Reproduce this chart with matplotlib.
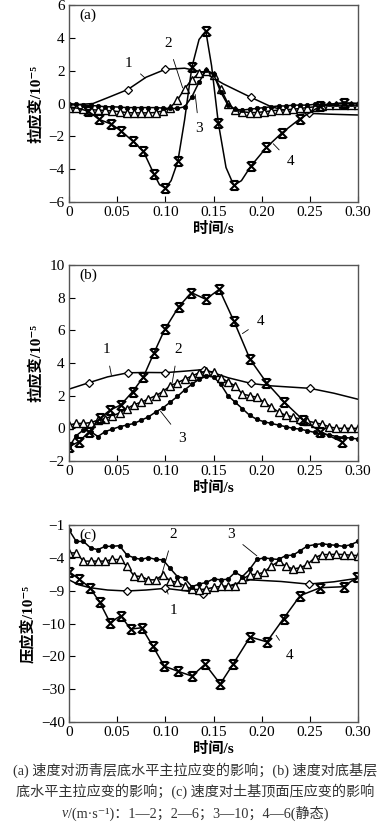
import numpy as np
import matplotlib.pyplot as plt
from matplotlib.path import Path

FAM = ['Liberation Serif', 'DejaVu Serif', 'Noto Sans CJK SC']
plt.rcParams['font.family'] = FAM
plt.rcParams['mathtext.fontset'] = 'stix'

# common time grid for the densely sampled curves 2 and 3
t = [0, 0.0075, 0.015, 0.0225, 0.03, 0.0375, 0.045, 0.0525, 0.06, 0.0675,
     0.075, 0.0825, 0.09, 0.0975, 0.105, 0.1125, 0.12, 0.1275, 0.135, 0.1425,
     0.15, 0.1575, 0.165, 0.1725, 0.18, 0.1875, 0.195, 0.2025, 0.21, 0.2175,
     0.225, 0.2325, 0.24, 0.2475, 0.255, 0.2625, 0.27, 0.2775, 0.285, 0.2925, 0.30]

# ---- (a) 沥青层底水平主拉应变
a1_x = [0, 0.025, 0.04, 0.061, 0.08, 0.100, 0.12, 0.14, 0.16, 0.189, 0.21, 0.23, 0.249, 0.27, 0.30]
a1_y = [-0.1, 0.0, 0.35, 0.85, 1.6, 2.08, 2.15, 1.9, 1.2, 0.37, -0.2, -0.5, -0.6, -0.65, -0.7]
a1_m = [3, 5, 9, 12]
a2_y = [-0.25, -0.3, -0.35, -0.38, -0.4, -0.42, -0.45, -0.5, -0.55, -0.57,
        -0.57, -0.57, -0.55, -0.45, -0.25, 0.2, 0.9, 1.45, 1.85, 2.0,
        1.75, 0.9, 0.0, -0.4, -0.5, -0.55, -0.55, -0.5, -0.45, -0.4,
        -0.38, -0.35, -0.3, -0.25, -0.2, -0.15, -0.12, -0.1, -0.1, -0.1, -0.1]
a3_y = [0.0, -0.05, -0.1, -0.12, -0.15, -0.2, -0.2, -0.22, -0.25, -0.25,
        -0.25, -0.25, -0.25, -0.28, -0.3, -0.3, -0.2, 0.4, 1.3, 2.05,
        1.8, 0.7, -0.1, -0.35, -0.4, -0.35, -0.3, -0.25, -0.2, -0.15,
        -0.15, -0.1, -0.1, -0.1, -0.05, -0.05, -0.05, 0.0, 0.0, 0.0, 0.0]
a4_x = [0, 0.01, 0.02, 0.031, 0.044, 0.054, 0.066, 0.077, 0.088, 0.094, 0.100, 0.106,
        0.113, 0.120, 0.1275, 0.135, 0.142, 0.148, 0.155, 0.163, 0.171, 0.179,
        0.189, 0.205, 0.221, 0.240, 0.261, 0.285, 0.30]
a4_y = [-0.2, -0.3, -0.47, -0.96, -1.26, -1.67, -2.28, -2.89, -4.27, -4.95, -5.15, -4.7,
        -3.52, -1.0, 2.2, 3.9, 4.41, 2.3, -1.18, -3.9, -4.98, -4.7,
        -3.8, -2.67, -1.79, -0.92, -0.15, 0.05, 0.0]
a4_m = [2, 3, 4, 5, 6, 7, 8, 10, 12, 14, 16, 18, 20, 22, 23, 24, 25, 26, 27]

# ---- (b) 底基层底水平主拉应变
b1_x = [0, 0.021, 0.04, 0.061, 0.08, 0.1, 0.12, 0.14, 0.165, 0.189, 0.21, 0.25, 0.275, 0.30]
b1_y = [2.4, 2.8, 3.15, 3.4, 3.42, 3.41, 3.5, 3.6, 3.1, 2.75, 2.6, 2.45, 2.15, 1.78]
b1_m = [1, 3, 5, 7, 9, 11]
b2_y = [0.2, 0.3, 0.3, 0.35, 0.5, 0.6, 0.75, 0.95, 1.2, 1.45,
        1.6, 1.8, 2.0, 2.25, 2.6, 2.8, 3.0, 3.2, 3.4, 3.5,
        3.45, 3.1, 2.85, 2.6, 2.1, 2.0, 1.9, 1.6, 1.3, 1.0,
        0.8, 0.7, 0.55, 0.45, 0.35, 0.25, 0.1, 0.0, 0.0, 0.0, 0.0]
b3_y = [-1.15, -0.45, -0.1, -0.2, -0.5, -0.2, -0.05, 0.1, 0.2, 0.3,
        0.5, 0.7, 1.0, 1.25, 1.6, 1.95, 2.35, 2.7, 3.0, 3.2,
        3.15, 2.7, 2.0, 1.6, 1.2, 0.8, 0.55, 0.4, 0.3, 0.2,
        0.1, 0.0, -0.05, -0.15, -0.25, -0.35, -0.4, -0.5, -0.55, -0.6, -0.65]
b4_x = [0, 0.0104, 0.021, 0.032, 0.0426, 0.0537, 0.066, 0.077, 0.088, 0.0994, 0.114,
        0.127, 0.142, 0.156, 0.171, 0.188, 0.205, 0.223, 0.243, 0.261, 0.283]
b4_y = [-1.12, -0.82, -0.2, 0.61, 1.12, 1.43, 2.24, 3.12, 4.59, 6.06, 7.45,
        8.31, 7.9, 8.51, 6.59, 4.22, 2.8, 1.63, 0.51, -0.2, -0.82]

# ---- (c) 土基顶面压应变 (纵轴刻度值与原图一致)
c1_x = [0, 0.01, 0.0218, 0.04, 0.06, 0.08, 0.0998, 0.12, 0.1396, 0.16, 0.188, 0.22, 0.2487, 0.275, 0.30]
c1_y = [3.3, 1.8, 0.9, 0.2, -0.1, 0.2, 0.7, 0.0, -0.9, 1.0, 3.3, 2.8, 2.0, 2.7, 3.8]
c1_m = [4, 6, 8, 12]
c2_y = [11.5, 11.5, 9.0, 9.0, 9.0, 9.0, 9.5, 9.5, 7.5, 4.5,
        4.3, 3.3, 3.3, 4.8, 3.0, 2.5, 1.5, 0.5, 0.3, 0.5,
        1.0, 1.3, 1.5, 1.5, 3.5, 4.8, 5.0, 5.6, 7.5, 8.9,
        7.5, 6.6, 7.0, 8.0, 10.0, 11.0, 11.0, 11.1, 11.0, 10.8, 10.7]
c3_y = [18.5, 15.0, 15.0, 13.0, 12.5, 13.5, 13.5, 13.7, 10.9, 10.0,
        9.5, 10.1, 9.5, 9.4, 6.8, 4.3, 3.8, 1.2, 2.0, 2.5,
        3.6, 3.3, 3.5, 5.6, 4.3, 6.5, 9.5, 10.0, 9.7, 9.5,
        10.7, 10.8, 12.2, 13.6, 14.0, 14.3, 14.0, 13.8, 13.5, 14.0, 15.0]
c4_x = [0, 0.0107, 0.0218, 0.032, 0.0426, 0.0537, 0.064, 0.0755, 0.087, 0.099, 0.1136,
        0.1275, 0.1413, 0.157, 0.1707, 0.188, 0.2054, 0.2227, 0.24, 0.2608, 0.285, 0.299]
c4_y = [5.8, 3.5, 0.9, -3.6, -9.7, -7.65, -11.7, -11.3, -16.9, -23.0, -24.6,
        -26.0, -22.4, -28.4, -22.2, -14.1, -15.6, -8.5, -1.5, 0.9, 1.2, 4.1]
c_ticks = [-40, -30, -20, -10, 0, 10, 20]
c_ticklabels = ['\u221240', '\u221230', '\u221220', '\u221210', '\u22129', '\u22124', '\u22121']

xticks = [0, 0.05, 0.10, 0.15, 0.20, 0.25, 0.30]
xticklabels = ['0', '0.05', '0.10', '0.15', '0.20', '0.25', '0.30']

# curve-number labels: (text, label x, label y, curve x, curve y)
a_labels = [('1', 0.062, 2.45, 0.079, 1.55), ('2', 0.103, 3.65, 0.118, 0.95),
            ('3', 0.135, -1.55, 0.131, 0.55), ('4', 0.230, -3.55, 0.212, -2.45)]
b_labels = [('1', 0.039, 4.8, 0.044, 3.25), ('2', 0.113, 4.8, 0.107, 2.75),
            ('3', 0.117, -0.6, 0.095, 1.05), ('4', 0.199, 6.55, 0.180, 5.8)]
c_labels = [('2', 0.108, 17.0, 0.096, 4.6), ('1', 0.108, -5.9, 0.1015, 0.3),
            ('3', 0.168, 17.0, 0.195, 10.6), ('4', 0.229, -19.7, 0.215, -13.6)]

# hourglass-like X marker
xmark = Path([(-1, -1), (1, 1), (-1, 1), (1, -1), (-0.75, 1), (0.75, 1), (-0.75, -1), (0.75, -1)],
             [Path.MOVETO, Path.LINETO] * 4)
st1 = dict(marker='D', ms=4.3, mfc='white', mec='k', mew=0.9)
st2 = dict(marker='^', ms=5.2, mfc='white', mec='k', mew=1.0)
st3 = dict(marker='o', ms=3.2, mfc='k', mec='k', mew=0.5)
st4 = dict(marker=xmark, ms=6.5, mec='k', mew=1.5, mfc='none')
lw = 1.1

W, H = 391, 838
fig = plt.figure(figsize=(W / 100, H / 100), dpi=100)


def box(left, top, right, bottom):
    return [left / W, 1 - bottom / H, (right - left) / W, (bottom - top) / H]


def setup(ax, ylim, yticks, yticklabels, ylabel, tag):
    ax.set_xlim(0, 0.30)
    ax.set_ylim(*ylim)
    ax.set_xticks(xticks)
    ax.set_xticklabels(xticklabels)
    ax.set_yticks(yticks)
    ax.set_yticklabels(yticklabels)
    ax.tick_params(direction='in', length=4, width=0.8, labelsize=11, top=False, right=False, pad=3)
    for s in ax.spines.values():
        s.set_color('#555555')
        s.set_linewidth(1.0)
    ax.set_xlabel('时间/s', fontsize=11, labelpad=2, fontweight='bold')
    ax.set_ylabel(ylabel, fontsize=11, labelpad=4, fontweight='bold')
    ax.text(0.035, 0.95, tag, transform=ax.transAxes, fontsize=11, ha='left', va='center')


def numlabels(ax, labels):
    for txt, lx, ly, cx, cy in labels:
        ax.annotate(txt, xy=(cx, cy), xytext=(lx, ly), fontsize=11, ha='center', va='center',
                    arrowprops=dict(arrowstyle='-', lw=0.6, color='k', shrinkA=5, shrinkB=0))


# (a)
ax = fig.add_axes(box(69, 5, 358, 202))
ax.plot(a1_x, a1_y, 'k-', lw=lw, markevery=a1_m, **st1)
ax.plot(t, a2_y, 'k-', lw=lw, **st2)
ax.plot(t, a3_y, 'k-', lw=lw, **st3)
ax.plot(a4_x, a4_y, 'k-', lw=lw, markevery=a4_m, **st4)
setup(ax, (-6, 6), [-6, -4, -2, 0, 2, 4, 6], ['\u22126', '\u22124', '\u22122', '0', '2', '4', '6'],
      '拉应变/10⁻⁵', '(a)')
numlabels(ax, a_labels)

# (b)
ax = fig.add_axes(box(69, 265, 358, 461))
ax.plot(b1_x, b1_y, 'k-', lw=lw, markevery=b1_m, **st1)
ax.plot(t, b2_y, 'k-', lw=lw, **st2)
ax.plot(t, b3_y, 'k-', lw=lw, **st3)
ax.plot(b4_x, b4_y, 'k-', lw=lw, **st4)
setup(ax, (-2, 10), [-2, 0, 2, 4, 6, 8, 10], ['\u22122', '0', '2', '4', '6', '8', '10'],
      '拉应变/10⁻⁵', '(b)')
numlabels(ax, b_labels)

# (c)
ax = fig.add_axes(box(69, 525, 358, 722))
ax.plot(c1_x, c1_y, 'k-', lw=lw, markevery=c1_m, **st1)
ax.plot(t, c2_y, 'k-', lw=lw, **st2)
ax.plot(t, c3_y, 'k-', lw=lw, **st3)
ax.plot(c4_x, c4_y, 'k-', lw=lw, **st4)
setup(ax, (-40, 20), c_ticks, c_ticklabels, '压应变/10⁻⁵', '(c)')
numlabels(ax, c_labels)

caption = ['(a) 速度对沥青层底水平主拉应变的影响；(b) 速度对底基层',
           '底水平主拉应变的影响；(c) 速度对土基顶面压应变的影响',
           '/(m·s⁻¹)：1—2；2—6；3—10；4—6(静态)']
cap_texts = []
for i, line in enumerate(caption):
    cap_texts.append(fig.text(0.5, 1 - (770 + 21.5 * i) / H, line, ha='center', va='center',
                              fontsize=10.2, color='#333333'))

# italic v in front of the last caption line
fig.canvas.draw()
bb = cap_texts[-1].get_window_extent()
vt = fig.text(bb.x0 / W, 1 - (770 + 43) / H, 'v', ha='right', va='center', fontsize=10.2,
              style='italic', color='#333333')
# recentre the last line including the v
shift = 3 / W
cap_texts[-1].set_x(0.5 + shift)
vt.set_x(bb.x0 / W + shift)

fig.savefig('out.png', dpi=100)
